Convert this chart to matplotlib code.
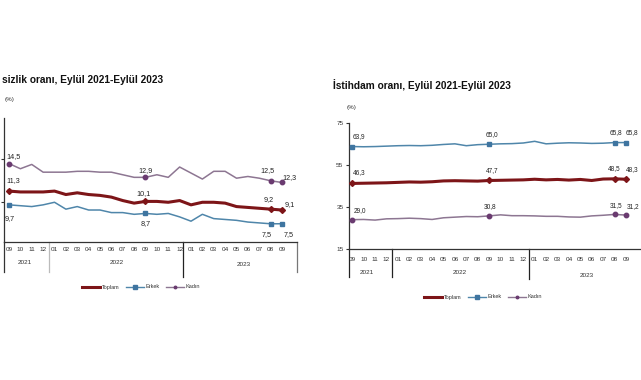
import matplotlib
matplotlib.use("Agg")
import matplotlib.pyplot as plt
import matplotlib.transforms as mtransforms
from matplotlib.lines import Line2D

plt.rcParams['font.family'] = ['Liberation Sans', 'DejaVu Sans']

months = ['09', '10', '11', '12', '01', '02', '03', '04', '05', '06', '07', '08',
          '09', '10', '11', '12', '01', '02', '03', '04', '05', '06', '07', '08', '09']
years = ['2021', '2022', '2023']

# Unemployment (İşsizlik oranı)
u_toplam = [11.3, 11.2, 11.2, 11.2, 11.3, 10.9, 11.1, 10.9, 10.8, 10.6, 10.2, 9.9, 10.1,
            10.1, 10.0, 10.2, 9.7, 10.0, 10.0, 9.9, 9.5, 9.4, 9.3, 9.2, 9.1]
u_erkek = [9.7, 9.6, 9.5, 9.7, 10.0, 9.2, 9.5, 9.1, 9.1, 8.8, 8.8, 8.6, 8.7,
           8.6, 8.7, 8.3, 7.8, 8.6, 8.1, 8.0, 7.9, 7.7, 7.6, 7.5, 7.5]
u_kadin = [14.5, 13.9, 14.4, 13.5, 13.5, 13.5, 13.6, 13.6, 13.5, 13.5, 13.2, 12.9, 12.9,
           13.2, 12.9, 14.1, 13.4, 12.7, 13.6, 13.6, 12.8, 13.0, 12.8, 12.5, 12.3]

# Employment (İstihdam oranı)
e_toplam = [46.3, 46.4, 46.5, 46.6, 46.8, 47.0, 46.9, 47.1, 47.5, 47.6, 47.5, 47.4, 47.7,
            47.8, 47.9, 48.0, 48.3, 48.0, 48.2, 47.9, 48.2, 47.7, 48.4, 48.5, 48.3]
e_erkek = [63.9, 63.8, 63.9, 64.1, 64.3, 64.4, 64.3, 64.5, 64.9, 65.2, 64.3, 64.8, 65.0,
           65.2, 65.3, 65.6, 66.4, 65.2, 65.5, 65.7, 65.6, 65.4, 65.5, 65.8, 65.8]
e_kadin = [29.0, 29.1, 28.8, 29.4, 29.5, 29.7, 29.5, 29.1, 29.9, 30.2, 30.5, 30.4, 30.8,
           31.3, 30.9, 30.9, 30.8, 30.6, 30.6, 30.3, 30.2, 30.8, 31.1, 31.5, 31.2]

labeled_idx = [0, 12, 23, 24]
series_names = ['Toplam', 'Erkek', 'Kadın']

C_TOP = '#7d1518'
C_ERK = '#4f86aa'
C_ERK_M = '#3f75a0'
C_KAD = '#8d7692'
C_KAD_M = '#6a3b70'

W, H = 641, 380
fig = plt.figure(figsize=(W / 100, H / 100), dpi=100)


def fx(p):
    return p / W


def fy(p):
    return 1 - p / H


def pt(px):
    return px * 0.72


def fmt(v):
    return f"{v:.1f}".replace('.', ',')


def draw_series(ax, vals, color, lw, marker, mcolor, ms):
    x = list(range(len(vals)))
    ax.plot(x, vals, color=color, lw=lw, zorder=3, solid_joinstyle='round')
    ax.plot([x[i] for i in labeled_idx], [vals[i] for i in labeled_idx], ls='none',
            marker=marker, color=mcolor, ms=ms, zorder=4, mec=mcolor)


def label_points(ax, vals, offsets, fs):
    for i, (dx, dy) in zip(labeled_idx, offsets):
        ax.annotate(fmt(vals[i]), (i, vals[i]), xytext=(pt(dx), pt(dy)),
                    textcoords='offset points', ha='center', va='center',
                    fontsize=fs, color='#222222')


def setup_axis(ax, bottom_px, height_px, month_pad, sep_idx, sep_colors, sep_bot,
               year_pos):
    ax.set_xticks(range(len(months)))
    ax.set_xticklabels(months, fontsize=4.6, color='#333333')
    ax.tick_params(axis='x', length=0, pad=month_pad)
    for s in ['top', 'right']:
        ax.spines[s].set_visible(False)
    ax.spines['left'].set_color('#333333')
    ax.spines['bottom'].set_color('#333333')
    ax.spines['left'].set_linewidth(0.9)
    ax.spines['bottom'].set_linewidth(0.9)
    trans = mtransforms.blended_transform_factory(ax.transData, ax.transAxes)
    for xi, c, yb in zip(sep_idx, sep_colors, sep_bot):
        yb_ax = (bottom_px - yb) / height_px
        ax.plot([xi, xi], [0, yb_ax], color=c, lw=0.9, transform=trans, clip_on=False)
    for (xi, yp), yr in zip(year_pos, years):
        ax.text(xi, (bottom_px - yp) / height_px, yr, transform=trans, ha='center',
                va='center', fontsize=4.6, color='#333333')


# ---------------- Left chart: İşsizlik oranı (cropped at the left edge) ----------------
L_bot, L_top = 242, 118
axL = fig.add_axes([fx(4), fy(L_bot), fx(297) - fx(4), (L_bot - L_top) / H])
axL.set_xlim((4 - 9) / 11.375, (297 - 9) / 11.375)
axL.set_ylim(5.38, 19.8)
axL.set_yticks([10, 15])
axL.set_yticklabels(['', ''])
axL.tick_params(axis='y', length=2.5, width=0.8, color='#333333')

draw_series(axL, u_kadin, C_KAD, 1.1, 'o', C_KAD_M, 3.2)
draw_series(axL, u_toplam, C_TOP, 2.2, 'D', C_TOP, 3.0)
draw_series(axL, u_erkek, C_ERK, 1.1, 's', C_ERK_M, 3.4)

label_points(axL, u_kadin, [(5, 7), (0, 7), (-3, 10), (7.5, 5)], 5.2)
label_points(axL, u_toplam, [(4, 11), (-2, 8), (-2, 10), (8, 5)], 5.2)
label_points(axL, u_erkek, [(1, -13.5), (0, -10), (-4, -11), (7, -11)], 5.2)

setup_axis(axL, L_bot, L_bot - L_top, 3.6,
           [(4 - 9) / 11.375, 3.5, 15.3, (297 - 9) / 11.375],
           ['#333333', '#bbbbbb', '#222222', '#777777'],
           [272, 272, 277, 272],
           [(1.4, 263), (9.5, 263), (20.6, 264)])

fig.text(fx(163), fy(80), 'sizlik oranı, Eylül 2021-Eylül 2023', ha='right',
         va='center', fontsize=7.3, fontweight='bold', color='#111111')
fig.text(fx(5), fy(100), '(%)', ha='left', va='center', fontsize=4.5, color='#333333')

# ---------------- Right chart: İstihdam oranı ----------------
R_bot, R_top = 249, 123.3
axR = fig.add_axes([fx(349), fy(R_bot), fx(645) - fx(349), (R_bot - R_top) / H])
axR.set_xlim((349 - 352.3) / 11.4, (645 - 352.3) / 11.4)
axR.set_ylim(15, 75)
axR.set_yticks([15, 35, 55, 75])
axR.set_yticklabels(['15', '35', '55', '75'], fontsize=4.6, color='#333333')
axR.tick_params(axis='y', length=2.5, width=0.8, pad=1.5, color='#333333')

draw_series(axR, e_kadin, C_KAD, 1.1, 'o', C_KAD_M, 3.2)
draw_series(axR, e_toplam, C_TOP, 2.2, 'D', C_TOP, 3.0)
draw_series(axR, e_erkek, C_ERK, 1.1, 's', C_ERK_M, 3.4)

label_points(axR, e_erkek, [(7, 10), (2.5, 10), (1.5, 10), (6, 10)], 4.7)
label_points(axR, e_toplam, [(7, 10.5), (3, 10), (0, 10), (6, 10)], 4.7)
label_points(axR, e_kadin, [(7.5, 9), (1, 9), (1.5, 9), (7, 9)], 4.7)

setup_axis(axR, R_bot, R_bot - R_top, 5.8,
           [(349 - 352.3) / 11.4, 3.5, 15.5],
           ['#222222', '#222222', '#222222'],
           [277, 277, 279],
           [(1.3, 273), (9.45, 273), (20.6, 275.5)])

fig.text(fx(333), fy(85), 'İstihdam oranı, Eylül 2021-Eylül 2023', ha='left',
         va='center', fontsize=7.3, fontweight='bold', color='#111111')
fig.text(fx(347), fy(108), '(%)', ha='left', va='center', fontsize=4.5, color='#333333')

# ---------------- Legends ----------------
handles = [
    Line2D([], [], color=C_TOP, lw=2.2),
    Line2D([], [], color=C_ERK, lw=1.0, marker='s', ms=2.2, mfc=C_ERK_M, mec=C_ERK_M),
    Line2D([], [], color=C_KAD, lw=1.0, marker='o', ms=1.8, mfc=C_KAD_M, mec=C_KAD_M),
]
for cx, cy in [(141, 287), (483, 297)]:
    fig.legend(handles, series_names, loc='center', bbox_to_anchor=(fx(cx), fy(cy)),
               ncol=3, frameon=False, fontsize=4.0, handlelength=3.2,
               handletextpad=0.3, columnspacing=1.2, labelcolor='#333333')

fig.savefig('out.png', dpi=100, facecolor='white')
